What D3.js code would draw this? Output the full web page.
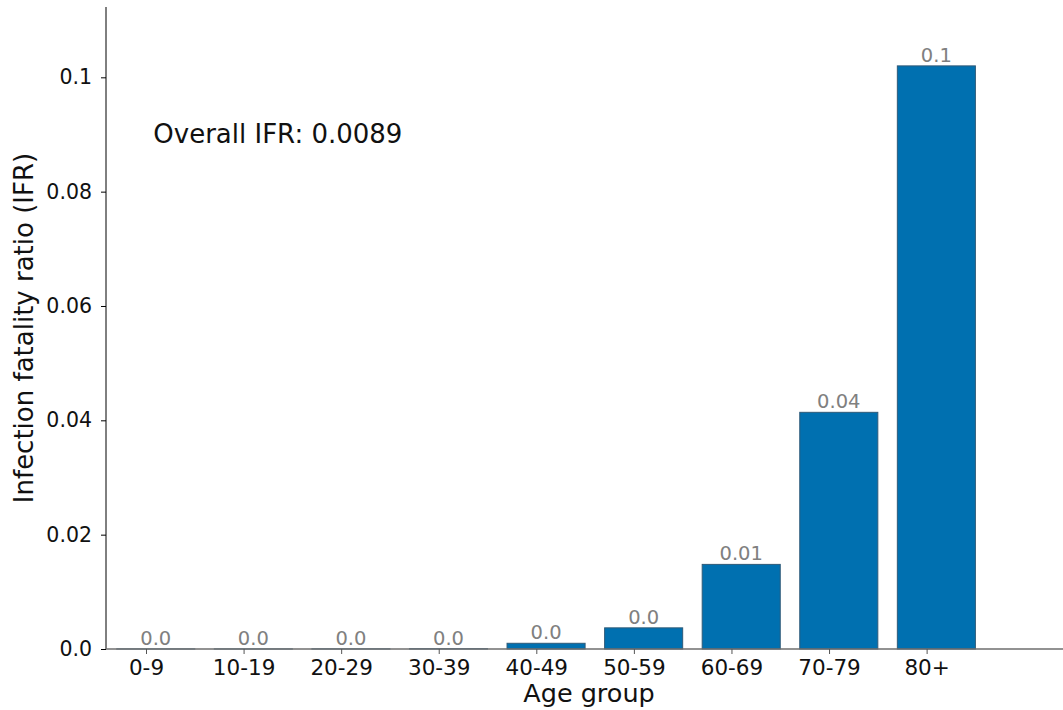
<!DOCTYPE html>
<html>
<head>
<meta charset="utf-8">
<script src="https://cdn.jsdelivr.net/npm/d3@7"></script>
<style>
  body { margin: 0; background: #fff; }
  svg { display: block; font-family: "DejaVu Sans", sans-serif; }
</style>
</head>
<body>
<div id="chart"></div>
<script>
// values
var ageGroups = ["0-9", "10-19", "20-29", "30-39", "40-49", "50-59", "60-69", "70-79", "80+"];
var ifrValues = [0.00001, 0.00001, 0.00002, 0.00004, 0.0010, 0.0037, 0.0148, 0.0414, 0.1020];
var yTicks = [0, 0.02, 0.04, 0.06, 0.08, 0.1];
var yTickLabels = ["0.0", "0.02", "0.04", "0.06", "0.08", "0.1"];
var overallText = "Overall IFR: 0.0089";

// python style str(round(v, 2))
function pyRound(v) {
  var r = Math.round(v * 100) / 100;
  var s = String(r);
  if (s.indexOf(".") < 0) s += ".0";
  return s;
}

var W = 1063, H = 710;
var svg = d3.select("#chart").append("svg")
  .attr("width", W)
  .attr("height", H);

var x = d3.scaleLinear().domain([-0.41, 9.49]).range([106, 1072]);
var y = d3.scaleLinear().domain([0, 0.1123]).range([649, 7]);
var barOffset = 0.1, barWidth = 0.8;

// bars
svg.selectAll("rect.bar")
  .data(ifrValues)
  .enter()
  .append("rect")
    .attr("class", "bar")
    .attr("x", function(d, i) { return x(i + barOffset - barWidth / 2); })
    .attr("width", x(barWidth) - x(0))
    .attr("y", function(d) { return y(d); })
    .attr("height", function(d) { return y(0) - y(d); })
    .style("fill", "#0070b0")
    .style("stroke", "#2f5a78")
    .style("stroke-width", 1);

// value labels
svg.selectAll("text.val")
  .data(ifrValues)
  .enter()
  .append("text")
    .attr("class", "val")
    .attr("x", function(d, i) { return x(i + barOffset); })
    .attr("y", function(d) { return y(d) - 4; })
    .attr("text-anchor", "middle")
    .style("font-size", "19.5px")
    .style("fill", "#808080")
    .text(function(d) { return pyRound(d); });

// y axis
var axisLeft = d3.axisLeft(y)
  .tickValues(yTicks)
  .tickFormat(function(d, i) { return yTickLabels[i]; })
  .tickSize(5)
  .tickPadding(9);
var gy = svg.append("g")
  .attr("transform", "translate(106,0)")
  .call(axisLeft)
  .attr("font-family", null)
  .attr("font-size", null);
gy.select(".domain").attr("d", "M0," + y.range()[1] + "V" + y.range()[0]).style("stroke", "#000");
gy.selectAll("text").style("font-size", "20.5px").style("fill", "#111");
gy.selectAll("line").style("stroke", "#000");

// x axis
var axisBottom = d3.axisBottom(x)
  .tickValues(d3.range(ageGroups.length))
  .tickFormat(function(d) { return ageGroups[d]; })
  .tickSize(5)
  .tickPadding(6);
var gx = svg.append("g")
  .attr("transform", "translate(0,649)")
  .call(axisBottom)
  .attr("font-family", null)
  .attr("font-size", null);
gx.select(".domain").attr("d", "M106,0H1072").style("stroke", "#6e6e6e").style("stroke-width", 1.5);
gx.selectAll("line").style("stroke", "#555");
gx.selectAll("text").style("font-size", "21.5px").style("fill", "#111");

// axis titles
svg.append("text")
  .attr("x", 589)
  .attr("y", 702)
  .attr("text-anchor", "middle")
  .style("font-size", "25.5px")
  .style("fill", "#111")
  .text("Age group");

svg.append("text")
  .attr("transform", "translate(33,328) rotate(-90)")
  .attr("text-anchor", "middle")
  .style("font-size", "26px")
  .style("fill", "#111")
  .text("Infection fatality ratio (IFR)");

// overall annotation
svg.append("text")
  .attr("x", x(0.075))
  .attr("y", y(0.0885))
  .style("font-size", "26px")
  .style("fill", "#111")
  .text(overallText);
</script>
</body>
</html>
